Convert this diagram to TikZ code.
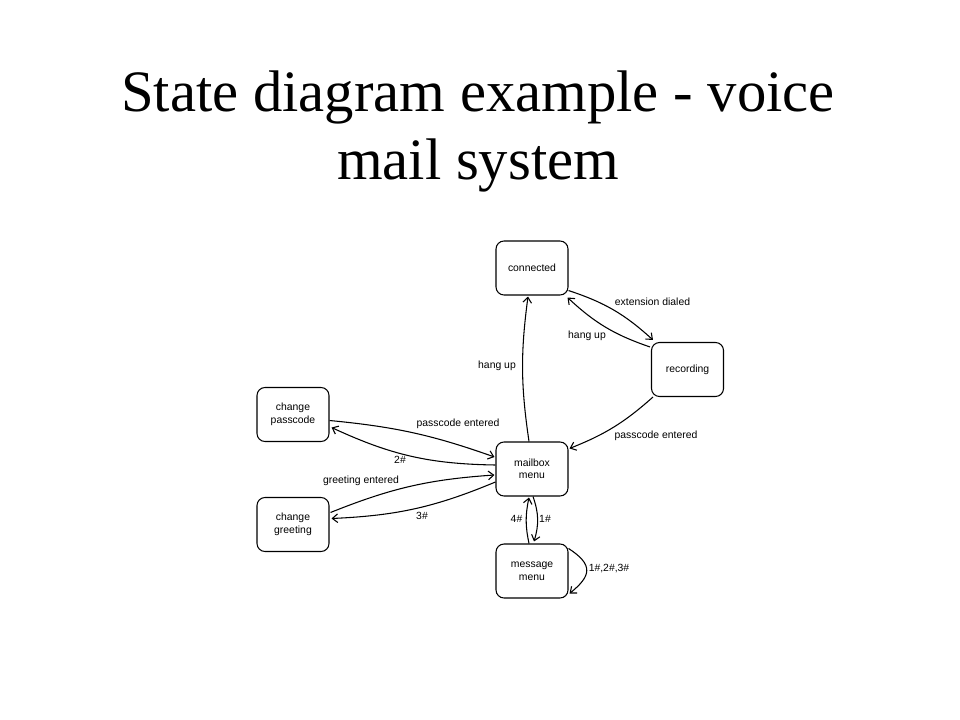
\documentclass[tikz,border=0pt]{standalone}
\usepackage{fontspec}
\setmainfont{Liberation Serif}
\newfontfamily\diagfont{Liberation Sans}
\usetikzlibrary{arrows.meta}
\tikzset{
  state/.style={draw=black, line width=0.8pt, rounded corners=6pt, minimum width=54pt, minimum height=40.5pt, inner sep=0pt, align=center, font=\diagfont\fontsize{7.8}{9.4}\selectfont},
  lbl/.style={inner sep=0pt, font=\diagfont\fontsize{7.8}{9.4}\selectfont},
  trans/.style={draw=black, line width=0.8pt, -{Straight Barb[length=4pt,width=6.5pt,line width=0.8pt]}},
  titletext/.style={inner sep=0pt, anchor=base, font=\fontsize{44}{51.75}\selectfont}
}
\begin{document}
\begin{tikzpicture}[x=0.75pt,y=-0.75pt]
\useasboundingbox[fill=white] (0,0) rectangle (960,720);
% title
\node[titletext] (t1) at (478,112) {State diagram example - voice};
\node[titletext] (t2) at (478,180) {mail system};
% states
\node[state] (co) at (532,268) {connected};
\node[state] (re) at (687.5,369.5) {recording};
\node[state] (cp) at (293,414.5) {change\\passcode};
\node[state] (mb) at (532,469) {mailbox\\menu};
\node[state] (cg) at (293,524.5) {change\\greeting};
\node[state] (mm) at (532,571) {message\\menu};
% transitions
\draw[trans] ([shift={(-3,0)}]mb.north) to[bend left=8] ([shift={(-4,1)}]co.south);
\draw[trans] ([shift={(0,-5)}]co.south east) to[bend left=12] ([shift={(2,-2)}]re.north west);
\draw[trans] ([shift={(-1,5)}]re.north west) to[bend left=12] ([shift={(-1,2)}]co.south east);
\draw[trans] ([shift={(2,0)}]re.south west) to[bend left=10] ([shift={(1,7)}]mb.north east);
\draw[trans] ([shift={(0,6)}]cp.east) to[bend left=7] ([shift={(-1,-12)}]mb.west);
\draw[trans] ([shift={(0,-4)}]mb.west) to[bend left=12] ([shift={(2,13)}]cp.east);
\draw[trans] ([shift={(1,-12)}]cg.east) to[bend left=9] ([shift={(-1,6)}]mb.west);
\draw[trans] ([shift={(0,13)}]mb.west) to[bend left=10] ([shift={(2,-6)}]cg.east);
\draw[trans] ([shift={(1,0)}]mb.south) to[bend left=18] ([shift={(2,-2)}]mm.north);
\draw[trans] ([shift={(-3,0)}]mm.north) to[bend left=12] ([shift={(-3,1)}]mb.south);
\coordinate (lpa) at (594,565);
\coordinate (lpb) at (591,576);
\draw[trans] ([shift={(0,5)}]mm.north east) .. controls (lpa) and (lpb) .. ([shift={(1,-5)}]mm.south east);
% labels
\node[lbl] (l1) at (497,366) {hang up};
\node[lbl] (l2) at (652.5,302) {extension dialed};
\node[lbl] (l3) at (587,336) {hang up};
\node[lbl] (l4) at (656,435.5) {passcode entered};
\node[lbl] (l5) at (458,423.5) {passcode entered};
\node[lbl] (l6) at (400,460) {2\#};
\node[lbl] (l7) at (361,481) {greeting entered};
\node[lbl] (l8) at (422,516) {3\#};
\node[lbl] (l9) at (516.5,518.5) {4\#};
\node[lbl] (l10) at (545,518.5) {1\#};
\node[lbl] (l11) at (609,569) {1\#,2\#,3\#};
\end{tikzpicture}
\end{document}
